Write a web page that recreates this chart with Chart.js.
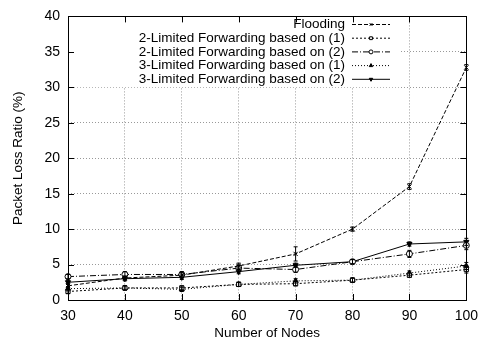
<!DOCTYPE html>
<html>
<head>
<meta charset="utf-8">
<script src="https://cdn.jsdelivr.net/npm/chart.js@4"></script>
<style>
  html, body { margin: 0; padding: 0; background: #fff; }
  #wrap { width: 486px; height: 345px; }
</style>
</head>
<body>
<div id="wrap"><canvas id="chart"></canvas></div>
<script>
// data
var nodes = ['30', '40', '50', '60', '70', '80', '90', '100']
var flooding = [2.0, 3.1, 3.5, 4.8, 6.5, 10.0, 16.0, 32.8]
var lim2based1 = [1.2, 1.7, 1.7, 2.2, 2.3, 2.8, 3.5, 4.3]
var lim2based2 = [3.3, 3.6, 3.6, 4.5, 4.3, 5.4, 6.5, 7.7]
var lim3based1 = [1.6, 1.7, 1.5, 2.2, 2.7, 2.8, 3.8, 4.8]
var lim3based2 = [2.5, 3.0, 3.2, 4.0, 4.9, 5.4, 7.9, 8.2]
// error bar half heights
var errFlooding = [0.3, 0.3, 0.4, 0.4, 1.0, 0.3, 0.4, 0.4]
var errSmall = [0.3, 0.3, 0.3, 0.3, 0.3, 0.3, 0.3, 0.5]
var errLim2b2 = [0.3, 0.4, 0.4, 0.4, 0.4, 0.3, 0.5, 0.6]
var seriesNames = [
  'Flooding',
  '2-Limited Forwarding based on (1)',
  '2-Limited Forwarding based on (2)',
  '3-Limited Forwarding based on (1)',
  '3-Limited Forwarding based on (2)'
]
var yTicks = [0, 5, 10, 15, 20, 25, 30, 35, 40]

var FONT = 'Liberation Sans, Arial, sans-serif'

function makeSet (i, values, errs, dash, style, rot, filled) {
  return {
    label: seriesNames[i],
    data: values,
    errs: errs,
    borderColor: '#000',
    borderWidth: 1,
    borderDash: dash,
    pointStyle: style,
    rotation: rot,
    pointRadius: 3,
    pointBorderWidth: 1,
    pointBorderColor: '#000',
    pointBackgroundColor: filled ? '#000' : '#fff',
    fill: false,
    tension: 0
  }
}

var datasets = [
  makeSet(0, flooding, errFlooding, [4, 2], 'crossRot', 0, false),
  makeSet(1, lim2based1, errSmall, [2, 2], 'rect', 0, false),
  makeSet(2, lim2based2, errLim2b2, [6, 2, 1, 2], 'circle', 0, false),
  makeSet(3, lim3based1, errSmall, [1, 2], 'triangle', 0, true),
  makeSet(4, lim3based2, errSmall, [], 'triangle', 180, true)
]

// gnuplot-like frame, inward ticks, error bars and legend
var frame = {
  id: 'frame',
  beforeDatasetsDraw: function (chart) {
    var ctx = chart.ctx
    var a = chart.chartArea
    var ys = chart.scales.y
    // blank box behind the key
    ctx.save()
    ctx.fillStyle = '#fff'
    ctx.fillRect(a.left + 1, a.top + 1, 330, ys.getPixelForValue(30) - a.top - 1)
    ctx.restore()
  },
  afterDatasetsDraw: function (chart) {
    var ctx = chart.ctx
    var a = chart.chartArea
    var xs = chart.scales.x
    var ys = chart.scales.y
    ctx.save()
    // error bars
    ctx.strokeStyle = '#000'
    ctx.lineWidth = 1
    chart.data.datasets.forEach(function (ds) {
      ds.data.forEach(function (v, j) {
        var px = xs.getPixelForValue(j)
        var t = ys.getPixelForValue(v + ds.errs[j])
        var b = ys.getPixelForValue(v - ds.errs[j])
        ctx.beginPath()
        ctx.moveTo(px, t); ctx.lineTo(px, b)
        ctx.moveTo(px - 2, t); ctx.lineTo(px + 2, t)
        ctx.moveTo(px - 2, b); ctx.lineTo(px + 2, b)
        ctx.stroke()
      })
    })
    // frame
    ctx.strokeRect(Math.round(a.left) + 0.5, Math.round(a.top) + 0.5,
      Math.round(a.right - a.left), Math.round(a.bottom - a.top))
    // inward ticks
    ctx.beginPath()
    yTicks.forEach(function (v) {
      var py = Math.round(ys.getPixelForValue(v)) + 0.5
      ctx.moveTo(a.left, py); ctx.lineTo(a.left + 6, py)
      ctx.moveTo(a.right, py); ctx.lineTo(a.right - 6, py)
    })
    nodes.forEach(function (n, j) {
      var px = Math.round(xs.getPixelForValue(j)) + 0.5
      ctx.moveTo(px, a.bottom); ctx.lineTo(px, a.bottom - 6)
      ctx.moveTo(px, a.top); ctx.lineTo(px, a.top + 6)
    })
    ctx.stroke()
    // key
    ctx.font = '13.5px ' + FONT
    ctx.textAlign = 'right'
    ctx.textBaseline = 'middle'
    ctx.fillStyle = '#000'
    var keyY = 24.5
    chart.data.datasets.forEach(function (ds, i) {
      var y = keyY + i * 13.7
      ctx.fillText(ds.label, 345, y)
      ctx.beginPath()
      ctx.setLineDash(ds.borderDash)
      ctx.moveTo(352, y); ctx.lineTo(390, y)
      ctx.stroke()
      ctx.setLineDash([])
      ctx.save()
      ctx.fillStyle = ds.pointBackgroundColor
      Chart.helpers.drawPoint(ctx, {
        pointStyle: ds.pointStyle, rotation: ds.rotation, radius: 2,
        borderWidth: 1
      }, 371, y)
      ctx.restore()
    })
    ctx.restore()
  }
}

new Chart(document.getElementById('chart'), {
  type: 'line',
  data: { labels: nodes, datasets: datasets },
  plugins: [frame],
  options: {
    responsive: true,
    maintainAspectRatio: false,
    animation: false,
    layout: { padding: { left: 0, right: 13, top: 14, bottom: 0 } },
    plugins: { legend: { display: false }, tooltip: { enabled: false } },
    scales: {
      x: {
        offset: false,
        afterFit: function (s) { s.height = 45 },
        grid: { color: '#999', lineWidth: 1, drawTicks: false },
        border: { display: false, dash: [1, 2] },
        ticks: { color: '#000', padding: 8, font: { family: FONT, size: 14 }, maxRotation: 0 },
        title: { display: true, text: 'Number of Nodes', color: '#000', padding: { top: 2, bottom: 4 }, font: { family: FONT, size: 13.5 } }
      },
      y: {
        min: 0,
        max: 40,
        afterFit: function (s) { s.width = 68 },
        grid: { color: '#999', lineWidth: 1, drawTicks: false },
        border: { display: false, dash: [1, 2] },
        ticks: { stepSize: 5, color: '#000', padding: 8, font: { family: FONT, size: 14 } },
        title: { display: true, text: 'Packet Loss Ratio (%)', color: '#000', padding: { top: 10, bottom: 0 }, font: { family: FONT, size: 13.5 } }
      }
    }
  }
})
</script>
</body>
</html>
